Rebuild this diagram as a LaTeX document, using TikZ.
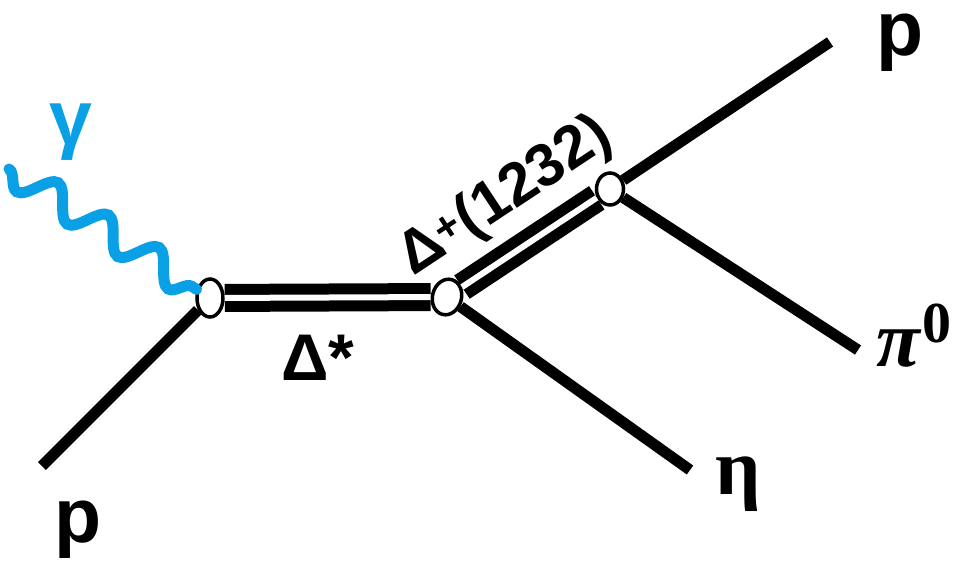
\documentclass[tikz,border=0pt]{standalone}
\usepackage{fontspec}
\setmainfont{Liberation Sans}
\newfontfamily\serifgreek{Liberation Serif}
\usetikzlibrary{shapes.geometric, decorations.pathmorphing}
\definecolor{photon}{RGB}{10,160,230}

\begin{document}
\begin{tikzpicture}[x=1pt, y=-1pt,
    leg/.style={line width=11pt},
    prop/.style={line width=11pt, double=white, double distance=6pt},
    vtx/.style={ellipse, draw, line width=3.5pt, fill=white, inner sep=0pt,
                minimum width=26pt, minimum height=38pt},
    wave/.style={photon, line width=11pt, line cap=round, decorate,
                 decoration={snake, mirror, segment length=60pt, amplitude=15pt}},
    lbl/.style={font=\fontsize{77}{80}\selectfont\bfseries, inner sep=0pt}
  ]
  \useasboundingbox (0,0) rectangle (957,564);
  % vertices
  \node[vtx] (v1) at (210,298) {};
  \node[vtx, minimum width=29pt, minimum height=36pt, rotate=-15] (v2) at (447,297) {};
  \node[vtx, minimum width=27pt, minimum height=32pt] (v3) at (610,189) {};
  % free ends
  \coordinate (gin) at (9,169);
  \coordinate (pin) at (42,466);
  \coordinate (pout) at (830,42);
  \coordinate (piout) at (858,350);
  \coordinate (etaout) at (690,470);
  % lines
  \draw[leg] (pin) -- (v1);
  \draw[wave] (gin) -- (v1);
  \draw[prop] (v1) -- (v2);
  \draw[prop] (v2) -- (v3);
  \draw[leg] (v2) -- (etaout);
  \draw[leg] (v3) -- (pout);
  \draw[leg] (v3) -- (piout);
  % labels
  \node[lbl] (lpin) at (78,530) {p};
  \node[lbl] (lpout) at (900,43) {p};
  \node[lbl, text=photon] (lgam) at (71,132) {γ};
  \node[lbl, font=\fontsize{66}{70}\selectfont\bfseries] (ldstar) at (318,358) {Δ*};
  \node[lbl, font=\fontsize{60}{64}\selectfont\bfseries, rotate=33.5] (ldplus)
    at (506,197) {Δ\textsuperscript{+}(1232)};
  \node[font=\fontsize{80}{84}\selectfont\serifgreek\bfseries, inner sep=0pt] (lpi)
    at (914,336) {\textit{π}\raisebox{0.3em}{\fontsize{58}{60}\selectfont 0}};
  \node[font=\fontsize{80}{84}\selectfont\serifgreek\bfseries, inner sep=0pt] (leta)
    at (738,484) {η};
\end{tikzpicture}
\end{document}
